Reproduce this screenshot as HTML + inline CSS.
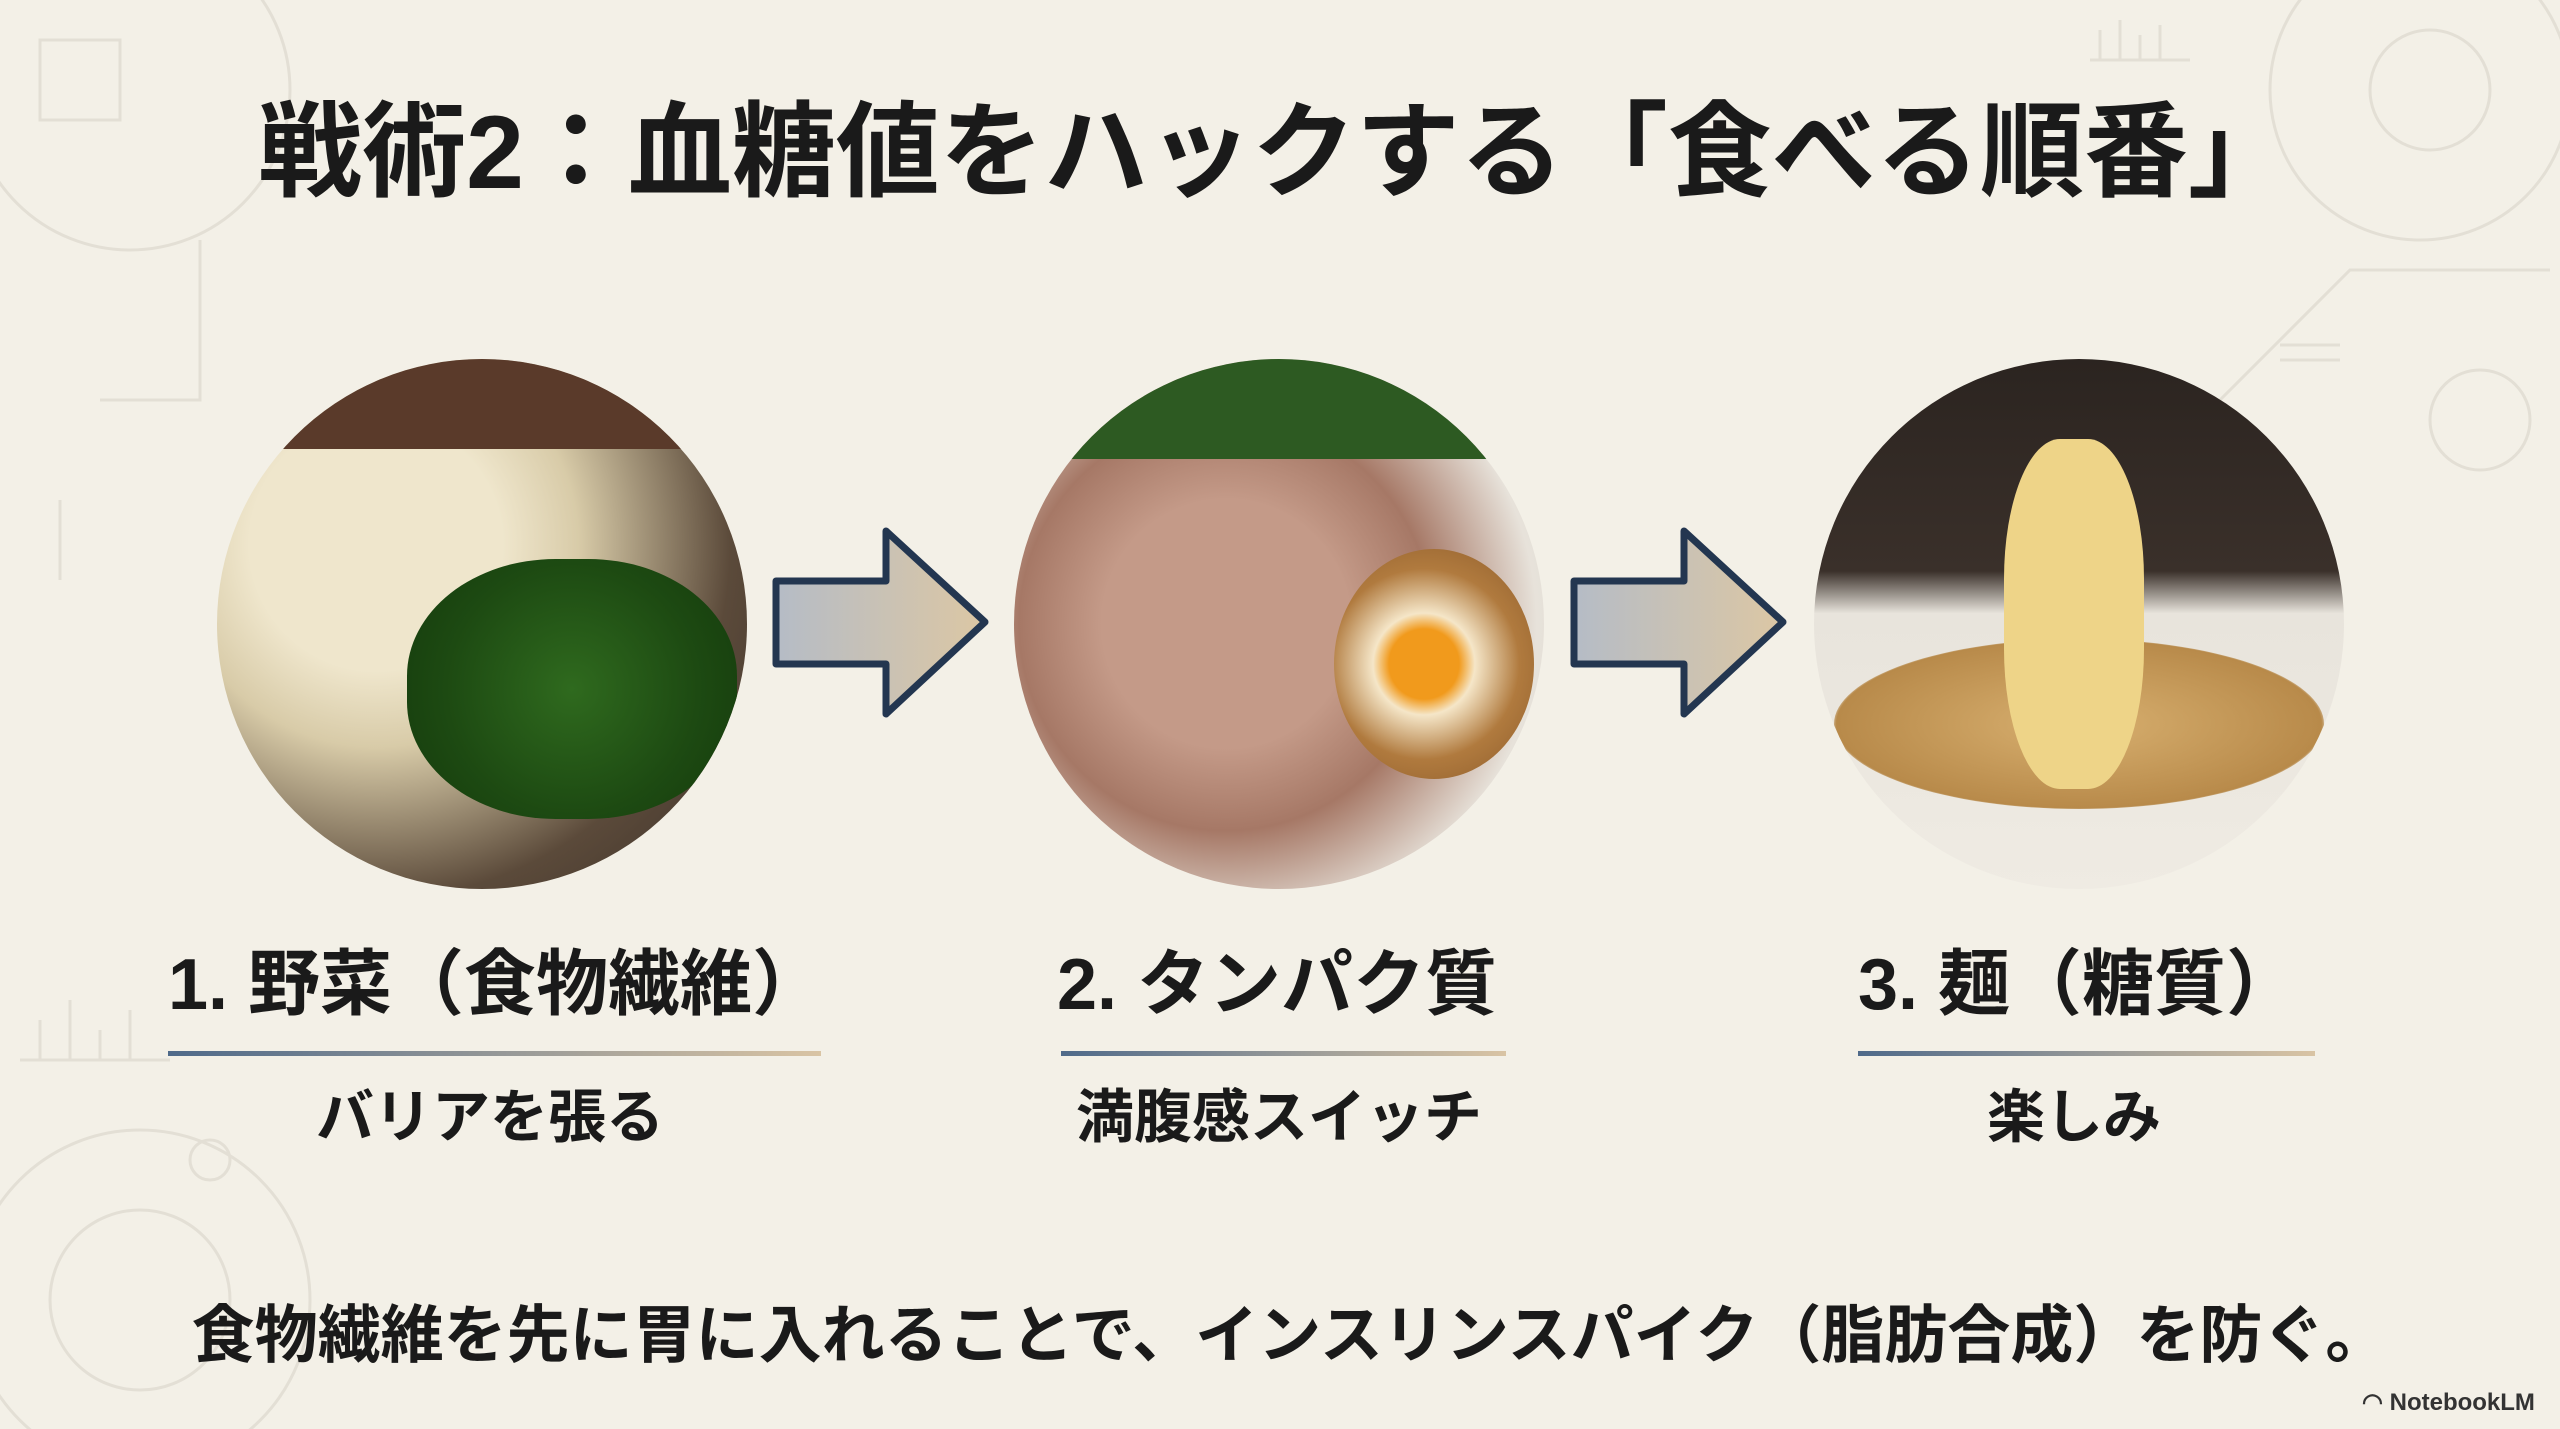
<!DOCTYPE html>
<html><head><meta charset="utf-8"><style>
html,body{margin:0;padding:0}
body{width:2560px;height:1429px;position:relative;overflow:hidden;background:#f3f0e7;font-family:"Liberation Sans","Noto Sans CJK JP",sans-serif;color:#1a1a1a}
.t{position:absolute;white-space:nowrap;font-weight:bold}
.c{position:absolute;border-radius:50%;overflow:hidden}
.u{position:absolute;height:5px;background:linear-gradient(90deg,#4f6a8a,#d9c4a4)}
</style></head><body>
<svg width="2560" height="1429" style="position:absolute;left:0;top:0" fill="none" stroke="#e3dfd5" stroke-width="3">
<circle cx="130" cy="90" r="160"/><circle cx="2420" cy="90" r="150"/><circle cx="2430" cy="90" r="60"/>
<circle cx="140" cy="1300" r="170"/><circle cx="140" cy="1300" r="90"/>
<rect x="40" y="40" width="80" height="80"/><path d="M20 1060h150M40 1060v-40M70 1060v-60M100 1060v-30M130 1060v-50"/>
<path d="M2090 60h100M2100 60v-30M2120 60v-40M2140 60v-25M2160 60v-35"/>
<path d="M2200 420l150-150h200M2280 360h60M2280 345h60"/>
<path d="M200 240v160h-100M60 500v80"/>
<circle cx="210" cy="1160" r="20"/><circle cx="2480" cy="420" r="50"/>
</svg>
<div class="t" style="left:0;width:2550px;text-align:center;top:88px;font-size:104px;line-height:130px">戦術2：血糖値をハックする「食べる順番」</div>

<div class="c" style="left:217px;top:359px;width:530px;height:530px;background:radial-gradient(circle at 30% 35%,#efe6cc 0 25%,#d8cba8 40%,#5b4a3a 70%,#3a2f28 100%)">
 <div style="position:absolute;left:190px;top:200px;width:330px;height:260px;border-radius:45%;background:radial-gradient(circle,#2f6a1e,#1d4a12 60%,#143a0c)"></div>
 <div style="position:absolute;left:0;top:0;width:530px;height:90px;background:#5a3a2a"></div>
</div>
<div class="c" style="left:1014px;top:359px;width:530px;height:530px;background:radial-gradient(circle at 40% 50%,#c49a88 0 30%,#a67866 50%,#e7e2da 75%,#dcd6cc 100%)">
 <div style="position:absolute;left:0;top:0;width:530px;height:100px;background:#2d5a22"></div>
 <div style="position:absolute;left:320px;top:190px;width:200px;height:230px;border-radius:50%;background:radial-gradient(circle at 45% 50%,#f19a1c 0 22%,#f5e6c8 32%,#b07a3e 60%,#8a5a2a)"></div>
</div>
<div class="c" style="left:1814px;top:359px;width:530px;height:530px;background:linear-gradient(#2b2420 0,#3a302a 40%,#e8e4dc 48%,#efebe3 100%)">
 <div style="position:absolute;left:20px;top:280px;width:490px;height:170px;border-radius:50%;background:radial-gradient(#d8b070,#b88a4a 70%,#e4ddd2 72%)"></div>
 <div style="position:absolute;left:190px;top:80px;width:140px;height:350px;border-radius:40%;background:#eed488"></div>
</div>

<svg width="2560" height="1429" style="position:absolute;left:0;top:0">
<defs><linearGradient id="g" x1="0" x2="1"><stop offset="0" stop-color="#b5bcc6"/><stop offset="1" stop-color="#dcc7a4"/></linearGradient></defs>
<path d="M776 581h110v-50l99 91-99 92v-50h-110z" fill="url(#g)" stroke="#233650" stroke-width="7" stroke-linejoin="round"/>
<path d="M1574 581h110v-50l99 91-99 92v-50h-110z" fill="url(#g)" stroke="#233650" stroke-width="7" stroke-linejoin="round"/>
</svg>

<div class="t" style="left:168px;top:940px;font-size:72px;line-height:90px">1. 野菜（食物繊維）</div>
<div class="u" style="left:168px;top:1051px;width:653px"></div>
<div class="t" style="left:1057px;top:940px;font-size:72px;line-height:90px">2. タンパク質</div>
<div class="u" style="left:1061px;top:1051px;width:445px"></div>
<div class="t" style="left:1858px;top:940px;font-size:72px;line-height:90px">3. 麺（糖質）</div>
<div class="u" style="left:1858px;top:1051px;width:457px"></div>

<div class="t" style="left:290px;width:400px;text-align:center;top:1083px;font-size:58px;line-height:70px">バリアを張る</div>
<div class="t" style="left:1029px;width:500px;text-align:center;top:1083px;font-size:58px;line-height:70px">満腹感スイッチ</div>
<div class="t" style="left:1874px;width:400px;text-align:center;top:1083px;font-size:58px;line-height:70px">楽しみ</div>

<div class="t" style="left:0;width:2580px;text-align:center;top:1296px;font-size:63px;line-height:80px">食物繊維を先に胃に入れることで、インスリンスパイク（脂肪合成）を防ぐ。</div>
<div class="t" style="left:2362px;top:1388px;font-size:24px;line-height:30px;color:#333">◠ NotebookLM</div>
</body></html>
